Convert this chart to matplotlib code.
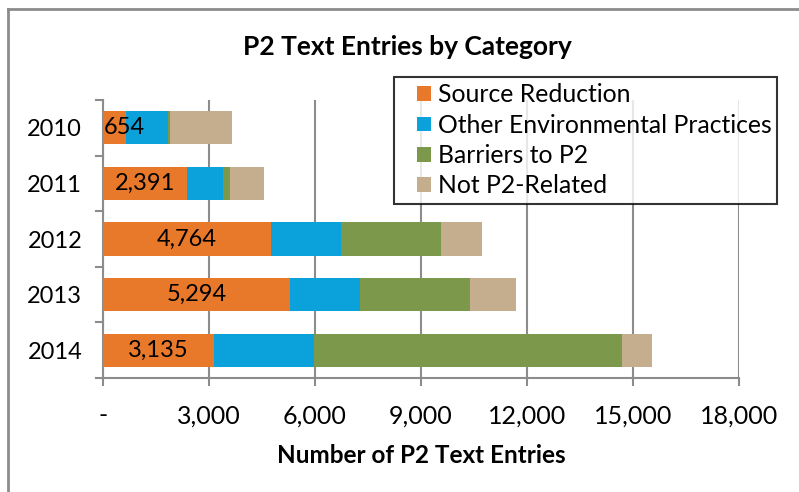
import numpy as np
import matplotlib
matplotlib.use("Agg")
import matplotlib.pyplot as plt
from matplotlib.lines import Line2D
from matplotlib.patches import Rectangle
from matplotlib.container import BarContainer
from matplotlib.legend_handler import HandlerPatch, update_from_first_child

plt.rcParams['font.family'] = ['Lato', 'DejaVu Sans']

years = ["2010", "2011", "2012", "2013", "2014"]
source_reduction = [654, 2391, 4764, 5294, 3135]
other_env = [1176, 1006, 1976, 1984, 2831]
barriers = [57, 190, 2829, 3116, 8726]
not_p2 = [1756, 963, 1153, 1304, 850]

series = [("Source Reduction", source_reduction, "#E8782A"),
          ("Other Environmental Practices", other_env, "#0BA1DA"),
          ("Barriers to P2", barriers, "#7C984B"),
          ("Not P2-Related", not_p2, "#C5AE8E")]

xticks = np.arange(0, 18001, 3000)
xticklabels = ["-", "3,000", "6,000", "9,000", "12,000", "15,000", "18,000"]

fig = plt.figure(figsize=(7.99, 4.92), dpi=100)
ax = fig.add_axes([103/799, 1-378/492, 636/799, 278/492])

y = np.arange(len(years))
left = np.zeros(len(years))
for name, vals, col in series:
    ax.barh(y, vals, left=left, height=0.6, color=col, label=name, zorder=3)
    left = left + np.array(vals)

# labels on source reduction (kept inside the plot area like Excel does)
for i, v in enumerate(source_reduction):
    if v < 1300:
        ax.text(30, i, f"{v:,}", ha="left", va="center", fontsize=17, color="black", zorder=4)
    else:
        ax.text(v/2, i, f"{v:,}", ha="center", va="center", fontsize=17, color="black", zorder=4)

ax.set_xlim(0, 18000)
ax.set_ylim(len(years)-0.5, -0.5)
ax.set_xticks(xticks)
ax.set_xticklabels(xticklabels, fontsize=18)
ax.set_yticks(y)
ax.set_yticklabels(years, fontsize=17)
ax.tick_params(axis="y", length=0, pad=15)
ax.tick_params(axis="x", length=6, width=1.5, color="#8C8C8C", direction="out", pad=13)

# category separator ticks on y axis
for b in np.arange(-0.5, len(years), 1.0):
    ax.plot([-0.011, 0], [b, b], transform=ax.get_yaxis_transform(), color="#8C8C8C", lw=1.5, clip_on=False)

ax.grid(axis="x", color="#8C8C8C", lw=1.5, zorder=0)
for s in ["top", "right"]:
    ax.spines[s].set_visible(False)
ax.spines["left"].set_color("#8C8C8C")
ax.spines["left"].set_linewidth(1.5)
ax.spines["bottom"].set_color("#8C8C8C")
ax.spines["bottom"].set_linewidth(1.5)

ax.set_xlabel("Number of P2 Text Entries", fontsize=17.5, fontweight="bold", labelpad=12)
fig.text(407/799, 1-47/492, "P2 Text Entries by Category", fontsize=19, fontweight="bold",
         ha="center", va="center")


def square(legend, orig_handle, xdescent, ydescent, width, height, fontsize):
    s = 10.5
    return Rectangle((width - s - xdescent, -ydescent + (height - s) / 2), s, s)


leg = ax.legend(loc="upper left", bbox_to_anchor=(394/799, 1-77/492), bbox_transform=fig.transFigure,
                fontsize=17.8, frameon=True, fancybox=False, edgecolor="black",
                handlelength=1.26, handleheight=0.7, handletextpad=0.25, labelspacing=0.3,
                borderpad=0.25, borderaxespad=0,
                handler_map={BarContainer: HandlerPatch(patch_func=square, update_func=update_from_first_child)})
leg.get_frame().set_linewidth(1.5)
leg.set_zorder(5)

# outer chart border (left and top visible)
fig.add_artist(Line2D([8/799, 8/799], [0, 1-9/492], color="#8C8C8C", lw=2, transform=fig.transFigure))
fig.add_artist(Line2D([8/799, 1], [1-9/492, 1-9/492], color="#8C8C8C", lw=2, transform=fig.transFigure))

fig.savefig("out.png", dpi=100)
